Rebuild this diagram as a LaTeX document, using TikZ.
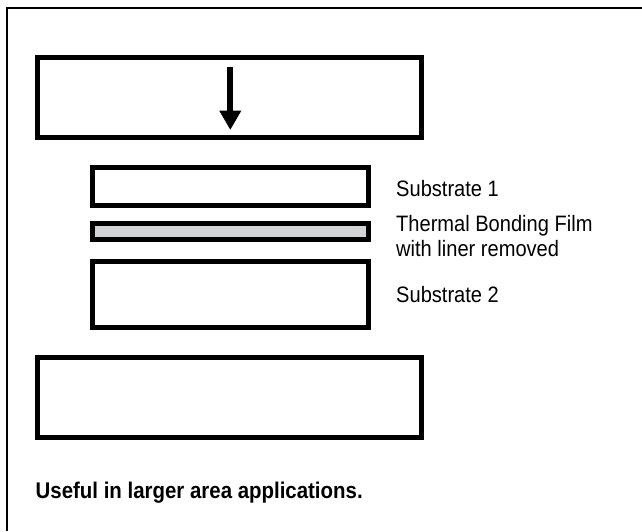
\documentclass[tikz,border=0pt]{standalone}
\usepackage{fontspec}
\setmainfont{Liberation Sans}[FakeStretch=0.9]
\usetikzlibrary{arrows.meta}
\definecolor{filmgray}{RGB}{211,212,213}
\tikzset{
  layer/.style={draw=black, line width=5pt, inner sep=0pt, outer sep=0pt, fill=white},
  film/.style={layer, fill=filmgray},
  label/.style={anchor=base west, inner sep=0pt, font=\fontsize{22.3}{24.6}\selectfont, align=left},
  note/.style={anchor=base west, inner sep=0pt, font=\fontsize{22.7}{24.6}\selectfont\bfseries},
  frameline/.style={draw=black, line width=1.8pt},
  pressarrow/.style={line width=6pt, -{Triangle[length=19.3pt,width=20.6pt]}}
}
\begin{document}
\begin{tikzpicture}[x=1pt,y=-1pt]
\useasboundingbox (0,0) rectangle (642,531);
\fill[white] (0,0) rectangle (642,531);
% outer frame (left and top edges)
\draw[frameline] (7,531) -- (7,8) -- (642,8);
% top platen
\node[layer, minimum width=384pt, minimum height=80pt] (top) at (229.5,97) {};
\coordinate (arrowstart) at (230.3,66.7);
\coordinate (arrowtip) at (230.3,130);
\draw[pressarrow] (arrowstart) -- (arrowtip);
% layers
\node[layer, minimum width=275.7pt, minimum height=37.2pt] (sub1) at (230.35,186.4) {};
\node[film, minimum width=275.7pt, minimum height=16pt] (tbf) at (230.35,231.8) {};
\node[layer, minimum width=275.7pt, minimum height=66.6pt] (sub2) at (230.35,294.5) {};
% bottom platen
\node[layer, minimum width=384pt, minimum height=80pt] (bottom) at (229.5,397) {};
% labels
\node[label] (l1) at (396,196) {Substrate 1};
\node[label] (l2) at (396,231) {Thermal Bonding Film};
\node[label] (l3) at (396,256) {with liner removed};
\node[label] (l4) at (396,302.5) {Substrate 2};
\node[note] (n1) at (35.5,498) {Useful in larger area applications.};
\end{tikzpicture}
\end{document}
